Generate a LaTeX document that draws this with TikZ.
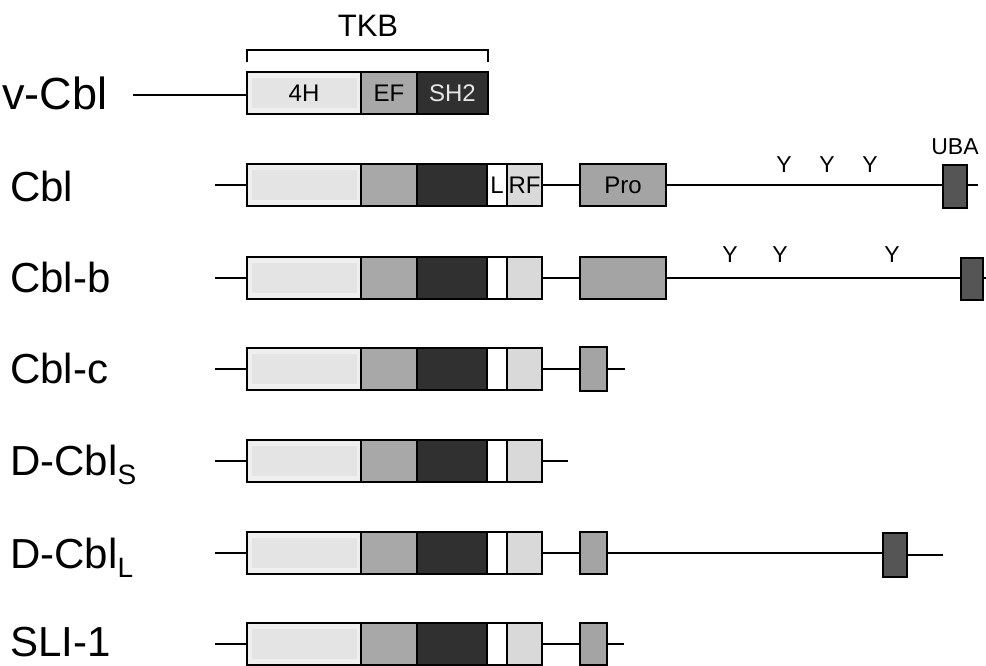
\documentclass[tikz,border=0pt]{standalone}
\usepackage{fontspec}
\setmainfont{Liberation Sans}
\definecolor{cFH}{HTML}{EFEFEF}
\definecolor{cFHin}{HTML}{E4E4E4}
\definecolor{cEF}{HTML}{A8A8A8}
\definecolor{cSH}{HTML}{303030}
\definecolor{cRF}{HTML}{D9D9D9}
\definecolor{cPro}{HTML}{A4A4A4}
\definecolor{cUBA}{HTML}{555555}
\definecolor{cSHtxt}{HTML}{E6E6E6}
\newcommand\cblcore[3]{%
  % #1 prefix, #2 center y, #3 show labels (1) or not (0)
  \node[dom, fill=cFH, minimum width=114pt] (#1h) at (247,#2) {};
  \fill[cFHin] (252,#2-15) rectangle (357,#2+15);
  \node[dom, fill=cEF, minimum width=56pt] (#1e) at (361,#2) {};
  \node[dom, fill=cSH, minimum width=70pt] (#1s) at (417,#2) {};
  \node[dom, fill=white, minimum width=20pt] (#1l) at (487,#2) {};
  \node[dom, fill=cRF, minimum width=35pt] (#1r) at (507,#2) {};
  \ifnum#3=1
    \node[inlbl] at (#1l.center) {L};
    \node[inlbl] at (#1r.center) {RF};
  \fi
  \coordinate (#1start) at (215,#2);
  \draw[conn] (#1start) -- (#1h.west);
}
\begin{document}
\begin{tikzpicture}[x=1pt,y=-1pt,
  dom/.style={draw=black, line width=1.5pt, minimum height=42pt, inner sep=0pt, outer sep=0pt, anchor=west},
  inlbl/.style={inner sep=0pt, font=\fontsize{24}{24}\selectfont},
  conn/.style={line width=1.5pt},
  lbl/.style={anchor=base west, inner sep=0pt, font=\fontsize{42}{42}\selectfont},
  tyr/.style={inner sep=0pt, font=\fontsize{23}{23}\selectfont}
]
\useasboundingbox (0,0) rectangle (986,665);

% ---------- TKB bracket ----------
\node[inner sep=0pt, font=\fontsize{31}{31}\selectfont] (tkb) at (368,26) {TKB};
\coordinate (brL) at (247,62);
\coordinate (brR) at (488,62);
\draw[line width=1.3pt] (brL) -- ++(0,-12) -- ++(241,0) -- (brR);

% ---------- v-Cbl ----------
\node[lbl, font=\fontsize{45}{45}\selectfont] (lv) at (2,109) {v-Cbl};
\node[dom, fill=cFH, minimum width=114pt] (vh) at (247,93) {};
\fill[cFHin] (252,78) rectangle (357,108);
\node[inlbl] at (vh.center) {4H};
\node[dom, fill=cEF, minimum width=56pt] (ve) at (361,93) {};
\node[inlbl] at (ve.center) {EF};
\node[dom, fill=cSH, minimum width=71pt] (vs) at (417,93) {};
\node[inlbl, text=cSHtxt] at (vs.center) {SH2};
\coordinate (vstart) at (133,95);
\draw[conn] (vstart) -- (vh.west |- vstart);

% ---------- Cbl ----------
\node[lbl] (lc) at (10,201) {Cbl};
\cblcore{c}{185}{1}
\node[dom, fill=cPro, minimum width=86pt] (cpro) at (580,185) {};
\node[inlbl] at (cpro.center) {Pro};
\node[dom, fill=cUBA, minimum width=24pt, minimum height=43pt] (cuba) at (943,186.5) {};
\node[tyr] at (955,147) {UBA};
\coordinate (cend) at (978,185);
\draw[conn] (cr.east) -- (cpro.west);
\draw[conn] (cpro.east) -- (cuba.west |- cpro.east);
\draw[conn] (cuba.east |- cend) -- (cend);
\node[tyr] at (784,165) {Y};
\node[tyr] at (827,165) {Y};
\node[tyr] at (870,165) {Y};

% ---------- Cbl-b ----------
\node[lbl] (lb) at (10,292) {Cbl-b};
\cblcore{b}{278}{0}
\node[dom, fill=cPro, minimum width=86pt] (bpro) at (580,278) {};
\node[dom, fill=cUBA, minimum width=22pt, minimum height=42pt] (buba) at (961,279) {};
\coordinate (bend) at (990,278);
\draw[conn] (br.east) -- (bpro.west);
\draw[conn] (bpro.east) -- (buba.west |- bpro.east);
\draw[conn] (buba.east |- bend) -- (bend);
\node[tyr] at (730,255) {Y};
\node[tyr] at (780,255) {Y};
\node[tyr] at (892,255) {Y};

% ---------- Cbl-c ----------
\node[lbl] (lcc) at (10,383) {Cbl-c};
\cblcore{x}{369}{0}
\node[dom, fill=cPro, minimum width=27pt, minimum height=44pt] (xp) at (580,369) {};
\coordinate (xend) at (625,369);
\draw[conn] (xr.east) -- (xp.west);
\draw[conn] (xp.east) -- (xend);

% ---------- D-Cbl_S ----------
\node[lbl] (lds) at (10,475) {D-Cbl\raisebox{-9pt}{\fontsize{28}{28}\selectfont S}};
\cblcore{s}{461}{0}
\coordinate (send) at (568,461);
\draw[conn] (sr.east) -- (send);

% ---------- D-Cbl_L ----------
\node[lbl] (ldl) at (10,568) {D-Cbl\raisebox{-9pt}{\fontsize{28}{28}\selectfont L}};
\cblcore{d}{553}{0}
\node[dom, fill=cPro, minimum width=27pt] (dp) at (580,553) {};
\node[dom, fill=cUBA, minimum width=24pt, minimum height=44pt] (duba) at (883,555) {};
\coordinate (dend) at (943,555);
\draw[conn] (dr.east) -- (dp.west);
\draw[conn] (dp.east) -- (duba.west |- dp.east);
\draw[conn] (duba.east |- dend) -- (dend);

% ---------- SLI-1 ----------
\node[lbl] (lsl) at (10,656) {SLI-1};
\cblcore{i}{644}{0}
\node[dom, fill=cPro, minimum width=27pt] (ip) at (580,644) {};
\coordinate (iend) at (624,644);
\draw[conn] (ir.east) -- (ip.west);
\draw[conn] (ip.east) -- (iend);
\end{tikzpicture}
\end{document}
